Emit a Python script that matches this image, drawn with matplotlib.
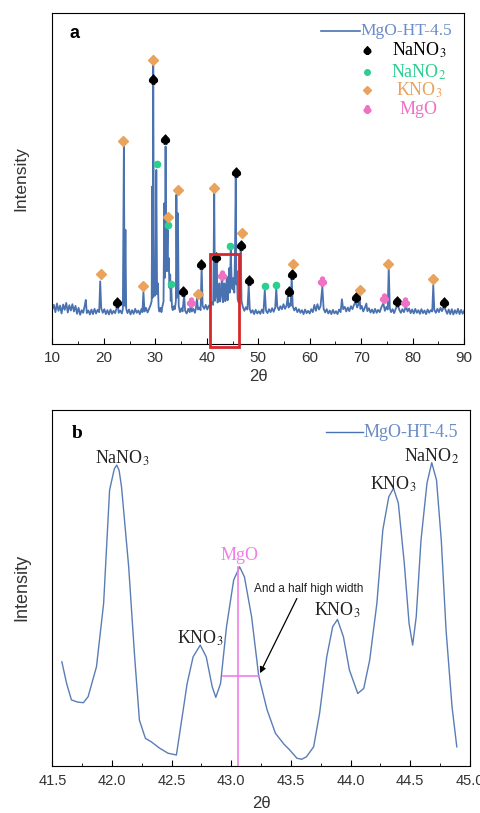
import matplotlib
matplotlib.use("Agg")
import matplotlib.pyplot as plt
from matplotlib.patches import Rectangle

plt.rcParams["font.family"] = ["Liberation Sans", "DejaVu Sans"]
plt.rcParams["mathtext.fontset"] = "stix"

# ---- panel a : full XRD pattern (2theta, intensity in arbitrary units) ----
pattern_a = [
    (10.0, 10.5), (10.3, 11.8), (10.6, 9.6), (10.9, 12.2), (11.2, 10.0), (11.5, 11.6),
    (11.8, 9.2), (12.1, 11.9), (12.4, 10.3), (12.7, 12.4), (13.0, 9.5), (13.3, 11.7),
    (13.6, 10.1), (13.9, 12.0), (14.2, 9.8), (14.5, 11.5), (14.8, 9.1), (15.1, 10.9),
    (15.4, 8.8), (15.7, 10.2), (16.0, 9.4), (16.3, 11.6), (16.5, 13.3), (16.7, 9.3),
    (17.0, 10.1), (17.3, 8.9), (17.6, 10.4), (17.9, 9.0), (18.2, 10.6), (18.5, 9.2),
    (18.8, 10.3), (19.1, 9.6), (19.3, 18.9), (19.5, 10.8), (19.8, 9.4), (20.1, 10.5),
    (20.4, 9.0), (20.7, 10.2), (21.0, 8.9), (21.3, 10.4), (21.6, 9.1), (21.9, 10.0),
    (22.2, 9.3), (22.5, 10.8), (22.7, 11.9), (22.9, 9.4), (23.2, 10.1), (23.5, 9.2),
    (23.7, 10.5), (23.9, 59.7), (24.05, 11.5), (24.2, 34.5), (24.35, 10.6), (24.6, 9.3),
    (24.9, 10.4), (25.2, 8.9), (25.5, 10.2), (25.8, 9.1), (26.1, 10.6), (26.4, 9.4),
    (26.7, 10.1), (27.0, 9.0), (27.3, 10.5), (27.5, 9.6), (27.7, 15.8), (27.9, 9.8),
    (28.2, 10.9), (28.5, 9.5), (28.8, 10.6), (29.1, 11.8), (29.3, 13.0), (29.4, 47.6),
    (29.5, 14.0), (29.6, 84.4), (29.75, 17.0), (29.9, 14.5), (30.05, 16.0), (30.2, 52.6),
    (30.35, 15.0), (30.5, 18.3), (30.65, 11.0), (30.8, 9.8), (31.0, 10.9), (31.2, 9.6),
    (31.4, 11.5), (31.6, 12.8), (31.75, 42.5), (31.85, 20.0), (32.0, 59.7), (32.15, 22.0),
    (32.3, 28.0), (32.4, 34.5), (32.5, 22.0), (32.6, 26.0), (32.75, 17.0), (32.9, 21.0),
    (33.0, 13.0), (33.1, 17.3), (33.25, 11.0), (33.4, 10.2), (33.6, 11.4), (33.8, 10.5),
    (34.0, 13.0), (34.1, 45.1), (34.25, 14.0), (34.4, 39.5), (34.55, 11.5), (34.8, 9.6),
    (35.1, 10.8), (35.3, 9.8), (35.6, 14.8), (35.8, 10.0), (36.1, 9.2), (36.4, 10.6),
    (36.7, 9.6), (36.9, 12.3), (37.1, 9.8), (37.4, 10.6), (37.7, 9.4), (37.9, 10.8),
    (38.1, 13.8), (38.3, 10.4), (38.6, 11.0), (38.8, 10.2), (39.0, 23.4), (39.2, 11.5),
    (39.5, 10.6), (39.8, 11.8), (40.1, 10.4), (40.4, 11.6), (40.7, 10.8), (41.0, 12.6),
    (41.25, 11.8), (41.45, 45.6), (41.6, 13.0), (41.75, 14.5), (41.9, 25.9), (42.1, 12.5),
    (42.3, 14.5), (42.45, 18.3), (42.6, 12.8), (42.8, 15.0), (42.97, 21.5), (43.15, 12.6),
    (43.3, 14.2), (43.42, 18.3), (43.6, 12.9), (43.75, 14.8), (43.88, 20.3), (44.05, 13.2),
    (44.2, 16.0), (44.33, 22.9), (44.48, 15.5), (44.66, 28.4), (44.85, 18.0), (45.0, 16.5),
    (45.2, 20.0), (45.35, 15.5), (45.5, 30.0), (45.63, 51.6), (45.75, 18.0), (45.85, 22.0),
    (46.0, 13.5), (46.2, 12.5), (46.4, 14.0), (46.6, 28.9), (46.75, 13.0), (47.0, 11.2),
    (47.3, 10.0), (47.6, 11.1), (47.9, 10.4), (48.15, 17.8), (48.35, 10.6), (48.6, 9.4),
    (48.9, 10.2), (49.2, 9.0), (49.5, 10.3), (49.8, 9.2), (50.1, 9.9), (50.4, 9.1),
    (50.7, 10.4), (51.0, 9.3), (51.27, 16.3), (51.5, 10.1), (51.8, 9.3), (52.1, 10.5),
    (52.4, 9.6), (52.7, 10.8), (53.0, 9.7), (53.3, 11.0), (53.5, 16.8), (53.7, 11.3),
    (54.0, 10.2), (54.3, 11.4), (54.6, 10.5), (54.9, 12.0), (55.2, 10.6), (55.5, 11.6),
    (55.73, 14.3), (55.9, 11.0), (56.1, 12.2), (56.3, 11.5), (56.5, 20.4), (56.7, 11.4),
    (57.0, 10.1), (57.3, 11.0), (57.6, 9.6), (57.9, 10.5), (58.2, 9.4), (58.5, 10.2),
    (58.8, 9.0), (59.1, 10.4), (59.4, 9.3), (59.7, 10.0), (60.0, 9.2), (60.3, 10.5),
    (60.6, 9.6), (60.9, 11.8), (61.2, 10.0), (61.5, 12.0), (61.8, 10.4), (62.1, 11.4),
    (62.45, 17.3), (62.7, 10.6), (63.0, 9.5), (63.3, 10.5), (63.6, 9.2), (63.9, 10.1),
    (64.2, 9.0), (64.5, 10.3), (64.8, 9.2), (65.1, 9.9), (65.4, 9.0), (65.7, 10.4),
    (66.0, 9.6), (66.25, 13.5), (66.5, 10.5), (66.8, 11.2), (67.1, 9.8), (67.4, 11.0),
    (67.7, 9.9), (68.0, 11.4), (68.3, 10.5), (68.6, 11.8), (68.95, 12.8), (69.2, 11.0),
    (69.45, 11.8), (69.65, 14.8), (69.85, 10.6), (70.1, 11.5), (70.4, 9.8), (70.7, 10.9),
    (71.0, 12.2), (71.2, 9.9), (71.5, 10.8), (71.8, 9.5), (72.1, 10.4), (72.4, 9.3),
    (72.7, 10.6), (73.0, 9.4), (73.3, 10.3), (73.6, 9.6), (73.9, 11.0), (74.3, 12.3),
    (74.6, 10.0), (74.9, 11.2), (75.15, 10.4), (75.35, 23.4), (75.55, 10.8), (75.8, 9.6),
    (76.1, 10.5), (76.4, 9.3), (76.7, 10.6), (77.1, 11.8), (77.4, 10.3), (77.7, 9.4),
    (78.0, 10.5), (78.3, 9.6), (78.7, 11.4), (79.0, 9.8), (79.3, 10.7), (79.6, 9.3),
    (79.9, 10.4), (80.2, 9.2), (80.5, 10.6), (80.8, 9.4), (81.1, 10.2), (81.4, 9.1),
    (81.7, 10.5), (82.0, 9.3), (82.3, 10.1), (82.6, 9.0), (82.9, 10.4), (83.2, 9.4),
    (83.5, 10.2), (83.8, 9.8), (84.0, 17.8), (84.2, 10.3), (84.5, 9.4), (84.8, 10.6),
    (85.1, 9.6), (85.4, 10.9), (85.7, 9.9), (86.1, 11.4), (86.4, 10.2), (86.7, 9.1),
    (87.0, 10.4), (87.3, 9.0), (87.6, 10.5), (87.9, 8.9), (88.2, 10.2), (88.5, 9.2),
    (88.8, 10.6), (89.1, 9.0), (89.4, 10.3), (89.7, 9.1), (90.0, 10.0),
]

# phase markers (2theta, height of marker)
nano3_x = [22.63, 29.62, 31.83, 35.45, 38.95, 41.80, 45.69, 46.72, 48.28, 55.92, 56.63, 69.0, 77.05, 86.1]
nano3_y = [12.8, 80.1, 61.9, 16.1, 24.1, 26.4, 52.1, 29.9, 19.4, 16.1, 21.1, 14.3, 13.0, 12.6]
nano2_x = [30.34, 32.41, 33.12, 44.59, 51.32, 53.52]
nano2_y = [54.3, 36.0, 18.2, 29.7, 17.5, 17.8]
kno3_x = [19.46, 23.8, 27.7, 29.62, 32.54, 34.35, 38.24, 41.48, 46.79, 56.76, 69.78, 75.28, 84.03]
kno3_y = [21.2, 61.4, 17.6, 85.9, 38.5, 46.6, 15.0, 47.0, 33.5, 24.3, 16.3, 24.3, 19.6]
mgo_x = [36.94, 43.03, 62.46, 74.44, 78.59]
mgo_y = [12.6, 20.7, 18.9, 13.8, 12.7]

# ---- panel b : zoom 41.5-45 ----
tth_b = [41.58, 41.62, 41.66, 41.71, 41.76, 41.80, 41.87, 41.93, 41.98, 42.02, 42.04,
         42.06, 42.08, 42.14, 42.19, 42.23, 42.28, 42.33, 42.40, 42.47, 42.54, 42.58,
         42.63, 42.68, 42.74, 42.79, 42.84, 42.87, 42.91, 42.96, 43.02, 43.07, 43.11,
         43.17, 43.23, 43.30, 43.37, 43.44, 43.49, 43.55, 43.59, 43.63, 43.69, 43.74,
         43.80, 43.85, 43.89, 43.94, 43.99, 44.06, 44.11, 44.16, 44.22, 44.27, 44.32,
         44.36, 44.40, 44.45, 44.49, 44.52, 44.55, 44.59, 44.64, 44.68, 44.72, 44.76,
         44.80, 44.85, 44.89]
int_b = [29.2, 23.1, 18.5, 17.9, 17.7, 19.4, 27.8, 45.6, 77.5, 83.5, 84.5,
         83.0, 78.4, 55.9, 30.6, 12.8, 7.7, 6.7, 4.9, 3.5, 3.0, 11.9,
         23.1, 30.6, 33.9, 30.6, 22.2, 19.2, 23.1, 39.1, 52.2, 55.9, 53.1,
         41.9, 25.2, 15.7, 9.1, 6.1, 4.4, 2.1, 1.8, 2.5, 5.3, 14.7,
         30.6, 39.1, 41.1, 36.2, 26.9, 20.3, 21.7, 29.7, 45.6, 66.3, 75.6,
         78.0, 73.8, 56.9, 40.0, 33.9, 41.9, 63.4, 79.4, 85.2, 80.3, 63.4,
         38.1, 16.6, 5.3]

peak_labels_b = ["NaNO$_3$", "KNO$_3$", "MgO", "KNO$_3$", "KNO$_3$", "NaNO$_2$"]
peak_lab_x = [42.09, 42.74, 43.07, 43.89, 44.36, 44.68]
peak_lab_y = [86.4, 35.8, 59.0, 43.6, 79.0, 86.9]

fwhm_left, fwhm_right, fwhm_h = 42.93, 43.23, 25.3
mgo_center, mgo_top = 43.06, 55.9

LINE_C = "#4a72b0"
LEG_TXT = "#6a8cc8"
GREEN = "#2ccf8f"
ORANGE = "#e9a35c"
PINK = "#f070c4"
MAGENTA = "#f07fe6"
TICK_C = "#333333"
SERIF = ["Liberation Serif", "DejaVu Serif"]

fig = plt.figure(figsize=(4.8, 8.13), dpi=100)
ax1 = fig.add_axes([0.109, 0.577, 0.858, 0.4068])
ax2 = fig.add_axes([0.109, 0.0582, 0.870, 0.4375])

# panel a
xa = [p[0] for p in pattern_a]
ya = [p[1] for p in pattern_a]
ax1.plot(xa, ya, color=LINE_C, lw=1.3)
ax1.plot(nano3_x, nano3_y, ls="none", marker=r"$\spadesuit$", color="k", ms=6.5)
ax1.plot(nano2_x, nano2_y, ls="none", marker="o", color=GREEN, ms=4.5)
ax1.plot(kno3_x, kno3_y, ls="none", marker="D", color=ORANGE, ms=5)
ax1.plot(mgo_x, mgo_y, ls="none", marker=r"$\clubsuit$", color=PINK, ms=6.5)
ax1.add_patch(Rectangle((40.7, -0.9), 5.6, 28.1, fill=False, ec="#d8262a", lw=2.0, clip_on=False, zorder=5))

ax1.set_xlim(10, 90)
ax1.set_ylim(0, 100)
ax1.set_xticks(range(10, 91, 10))
ax1.set_xticks(range(15, 90, 10), minor=True)
ax1.set_yticks([])
ax1.tick_params(axis="x", which="both", direction="in", labelsize=11, pad=5, labelcolor=TICK_C)
ax1.tick_params(axis="x", which="major", length=4)
ax1.tick_params(axis="x", which="minor", length=2)
ax1.set_xlabel("2θ", fontsize=12, labelpad=3, color=TICK_C)
ax1.set_ylabel("Intensity", fontsize=12.5, labelpad=17, color=TICK_C)
ax1.text(0.041, 0.94, "a", transform=ax1.transAxes, fontsize=13, fontweight="bold", va="center")

# legend of panel a drawn by hand
tr = ax1.transAxes
ax1.plot([0.652, 0.748], [0.947, 0.947], color=LINE_C, lw=1.2, transform=tr)
ax1.text(0.748, 0.947, "MgO-HT-4.5", transform=tr, color=LEG_TXT, fontsize=12.5,
         family=SERIF, va="center", ha="left")
leg_y = [0.889, 0.822, 0.768, 0.710]
leg_lab = ["NaNO$_3$", "NaNO$_2$", "KNO$_3$", "MgO"]
leg_col = ["k", GREEN, ORANGE, PINK]
leg_mk = [r"$\spadesuit$", "o", "D", r"$\clubsuit$"]
leg_ms = [5.5, 4, 4.5, 5.5]
for yy, lab, col, mk, ms in zip(leg_y, leg_lab, leg_col, leg_mk, leg_ms):
    ax1.plot([0.764], [yy], ls="none", marker=mk, color=col, ms=ms, transform=tr)
    ax1.text(0.890, yy, lab, transform=tr, color=col, fontsize=13, family=SERIF,
             ha="center", va="center")

# panel b
ax2.plot(tth_b, int_b, color="#5a7db6", lw=1.0)
ax2.plot([mgo_center, mgo_center], [0, mgo_top], color=MAGENTA, lw=1.2, clip_on=False)
ax2.plot([fwhm_left, fwhm_right], [fwhm_h, fwhm_h], color=MAGENTA, lw=1.2)
for lab, x, y in zip(peak_labels_b, peak_lab_x, peak_lab_y):
    col = MAGENTA if lab == "MgO" else "#222222"
    ax2.text(x, y, lab, color=col, fontsize=13, family=SERIF, ha="center", va="center")
ax2.annotate("", xy=(fwhm_right, fwhm_h), xytext=(43.56, 47.7),
             arrowprops=dict(arrowstyle="-|>", color="k", lw=0.9, mutation_scale=9))
ax2.text(43.19, 49.6, "And a half high width", fontsize=8.5, ha="left", va="center", color="#222222")
ax2.text(41.66, 93.4, "b", fontsize=14, fontweight="bold", family=SERIF, va="center")
ax2.plot([0.655, 0.745], [0.937, 0.937], color=LINE_C, lw=1.0, transform=ax2.transAxes)
ax2.text(0.745, 0.937, "MgO-HT-4.5", transform=ax2.transAxes, color=LEG_TXT, fontsize=13,
         family=SERIF, va="center", ha="left")

ax2.set_xlim(41.5, 45.0)
ax2.set_ylim(0, 100)
ax2.set_xticks([41.5, 42.0, 42.5, 43.0, 43.5, 44.0, 44.5, 45.0])
ax2.set_xticklabels(["41.5", "42.0", "42.5", "43.0", "43.5", "44.0", "44.5", "45.0"])
ax2.set_xticks([41.75, 42.25, 42.75, 43.25, 43.75, 44.25, 44.75], minor=True)
ax2.set_yticks([])
ax2.tick_params(axis="x", which="both", direction="in", labelsize=10.5, pad=6, labelcolor=TICK_C)
ax2.tick_params(axis="x", which="major", length=4)
ax2.tick_params(axis="x", which="minor", length=2)
ax2.set_xlabel("2θ", fontsize=12, labelpad=6, color=TICK_C)
ax2.set_ylabel("Intensity", fontsize=13, labelpad=16, color=TICK_C)

fig.savefig("out.png", dpi=100)
